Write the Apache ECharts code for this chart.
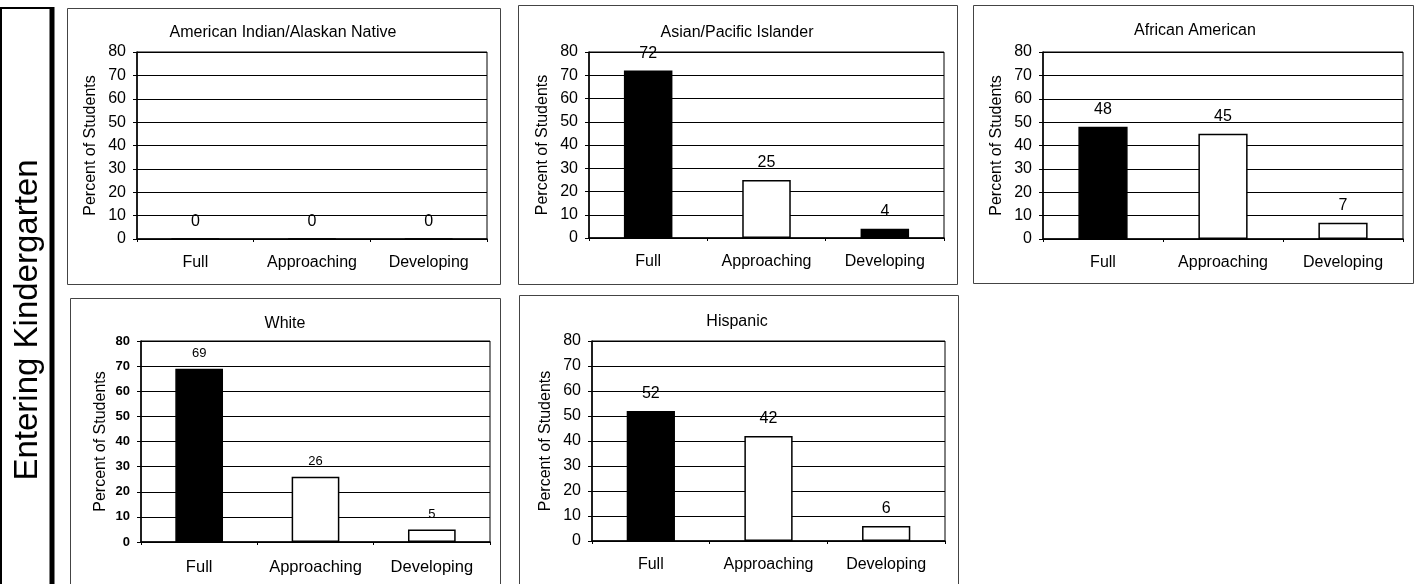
<!DOCTYPE html>
<html>
<head>
<meta charset="utf-8">
<style>
  html, body { margin: 0; padding: 0; background: #fff; }
  #chart { width: 1418px; height: 584px; }
</style>
<script src="https://cdn.jsdelivr.net/npm/echarts@6/dist/echarts.min.js"></script>
</head>
<body>
<div id="chart"></div>
<script>
// ---------- data ----------
const categories = ['Full', 'Approaching', 'Developing'];
const groupNames = ['American Indian/Alaskan Native', 'Asian/Pacific Islander', 'African American', 'White', 'Hispanic'];
const amIndianValues = [0, 0, 0];
const asianValues = [72, 25, 4];
const africanValues = [48, 45, 7];
const whiteValues = [69, 26, 5];
const hispanicValues = [52, 42, 6];
const yAxisName = 'Percent of Students';
const sideLabel = 'Entering Kindergarten';
const yMin = 0, yMax = 80, yStep = 10;

// ---------- styling / layout (not data) ----------
const seriesValues = [amIndianValues, asianValues, africanValues, whiteValues, hispanicValues];
const BLACK = '#000000', WHITE = '#ffffff';
const barFills = [
  [BLACK, WHITE, WHITE],
  [BLACK, WHITE, BLACK],
  [BLACK, WHITE, WHITE],
  [BLACK, WHITE, WHITE],
  [BLACK, WHITE, WHITE]
];
const layout = [
  { grid: { left: 137, top: 52, width: 350, height: 187 }, title: [283, 33], box: [67, 8, 433, 276], nameGap: 38, tickFont: 16, valFont: 16, catFont: 16, catMargin: 16 },
  { grid: { left: 589, top: 52, width: 355, height: 186 }, title: [737, 33], box: [518, 5, 439, 279], nameGap: 38, tickFont: 16, valFont: 16, catFont: 16, catMargin: 16 },
  { grid: { left: 1043, top: 52, width: 360, height: 187 }, title: [1195, 31], box: [973, 5, 440, 278], nameGap: 38, tickFont: 16, valFont: 16, catFont: 16, catMargin: 16 },
  { grid: { left: 141, top: 341, width: 349, height: 201 }, title: [285, 324], box: [70, 298, 430, 300], nameGap: 32, tickFont: 13, valFont: 13, catFont: 16.5, catMargin: 17, bold: true },
  { grid: { left: 592, top: 341, width: 353, height: 200 }, title: [737, 322], box: [519, 295, 439, 300], nameGap: 38, tickFont: 16, valFont: 16, catFont: 16, catMargin: 16 }
];
const FONT = '"Liberation Sans", Arial, Helvetica, sans-serif';

const grids = [], xAxes = [], yAxes = [], series = [], titles = [], graphics = [];

// left label box
graphics.push({
  type: 'rect', silent: true, z: 0,
  shape: { x: 1, y: 8, width: 50, height: 600 },
  style: { fill: null, stroke: '#000', lineWidth: 2 }
});
graphics.push({
  type: 'line', silent: true, z: 0,
  shape: { x1: 52, y1: 7, x2: 52, y2: 600 },
  style: { stroke: '#000', lineWidth: 5 }
});
graphics.push({
  type: 'text', silent: true, z: 5,
  x: 28, y: 320, rotation: Math.PI / 2,
  style: { text: sideLabel, font: '33px ' + FONT, fill: '#000', align: 'center', verticalAlign: 'middle' }
});

layout.forEach((L, i) => {
  graphics.push({
    type: 'rect', silent: true, z: 0,
    shape: { x: L.box[0] + 0.5, y: L.box[1] + 0.5, width: L.box[2], height: L.box[3] },
    style: { fill: null, stroke: '#444', lineWidth: 1 }
  });
  titles.push({
    text: groupNames[i],
    left: L.title[0], top: L.title[1] - 8, textAlign: 'center',
    padding: 0,
    textStyle: { fontFamily: FONT, fontSize: 16, fontWeight: 'normal', color: '#000' }
  });
  grids.push(Object.assign({ show: true, borderColor: '#000', borderWidth: 1, backgroundColor: 'transparent', containLabel: false }, L.grid));
  xAxes.push({
    type: 'category', gridIndex: i, data: categories,
    axisLine: { lineStyle: { color: '#000', width: 1.5 } },
    axisTick: { show: true, length: 3, lineStyle: { color: '#000' } },
    axisLabel: { interval: 0, color: '#000', fontFamily: FONT, fontSize: L.catFont, margin: L.catMargin }
  });
  yAxes.push({
    type: 'value', gridIndex: i, min: yMin, max: yMax, interval: yStep,
    name: yAxisName, nameLocation: 'middle', nameGap: L.nameGap, nameRotate: 90,
    nameTextStyle: { color: '#000', fontFamily: FONT, fontSize: 16 },
    axisLine: { show: true, lineStyle: { color: '#000', width: 1.5 } },
    axisTick: { show: true, length: 4, lineStyle: { color: '#000' } },
    axisLabel: { color: '#000', fontFamily: FONT, fontSize: L.tickFont, fontWeight: L.bold ? 'bold' : 'normal', margin: 11 },
    splitLine: { show: true, lineStyle: { color: '#000', width: 1 } }
  });
  series.push({
    type: 'bar', xAxisIndex: i, yAxisIndex: i,
    barWidth: '41%',
    data: seriesValues[i].map((v, j) => ({
      value: v,
      itemStyle: { color: barFills[i][j], borderColor: '#000', borderWidth: 1.5 }
    })),
    label: { show: true, position: 'top', distance: 9, color: '#000', fontFamily: FONT, fontSize: L.valFont },
    animation: false
  });
});

const chart = echarts.init(document.getElementById('chart'), null, { renderer: 'canvas' });
chart.setOption({
  animation: false,
  backgroundColor: '#fff',
  textStyle: { fontFamily: FONT },
  title: titles,
  grid: grids,
  xAxis: xAxes,
  yAxis: yAxes,
  series: series,
  graphic: graphics
});
</script>
</body>
</html>
